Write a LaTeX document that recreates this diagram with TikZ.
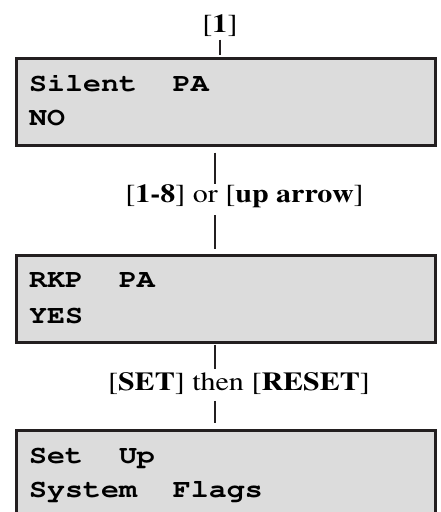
\documentclass[tikz,border=0pt]{standalone}
\usepackage[T1]{fontenc}
\usepackage{graphicx}

\definecolor{lcdgrey}{HTML}{DCDCDC}
\definecolor{ink}{HTML}{231F20}

\newcommand\lcdfont{\fontfamily{pcr}\fontseries{b}\fontsize{25.7}{30}\selectfont}
\newcommand\keyfont{\fontfamily{ptm}\fontseries{m}\fontsize{26}{30}\selectfont}
\newcommand\xwide[1]{\scalebox{1.155}[1]{#1}}
\newcommand\lcdwide[1]{\scalebox{1.165}[1]{#1}}

\tikzset{
  lcd/.style={draw=ink, fill=lcdgrey, line width=3pt, minimum width=418.5pt,
    minimum height=87pt, inner sep=0pt, outer sep=0pt, anchor=north west},
  lcdline/.style={font=\lcdfont, inner sep=0pt, anchor=base west},
  key/.style={font=\keyfont, inner sep=0pt, anchor=base},
  wire/.style={draw=ink, line width=2pt},
}

\begin{document}
\begin{tikzpicture}[x=1pt, y=-1pt]
  \useasboundingbox (0,0) rectangle (441,512);
  \clip (0,0) rectangle (441,512);
  \coordinate (spine) at (214.5,0);

  \node[key] (one) at (220,32.3) {\xwide{[\textbf{1}]}};
  \node[lcd] (silent) at (16.5,58.5) {};
  \node[lcdline] (silent1) at (29,91.5) {\lcdwide{Silent\ \ PA}};
  \node[lcdline] (silent2) at (29,125) {\lcdwide{NO}};

  \node[key] (keys) at (244.5,202) {\xwide{[\textbf{1-8}] or [\textbf{up arrow}]}};
  \node[lcd] (rkp) at (16.5,255.5) {};
  \node[lcdline] (rkp1) at (29,287) {\lcdwide{RKP\ \ PA}};
  \node[lcdline] (rkp2) at (29,323.5) {\lcdwide{YES}};

  \node[key] (setreset) at (239,390) {\xwide{[\textbf{SET}] then [\textbf{RESET}]}};
  \node[lcd] (setup) at (16.5,430) {};
  \node[lcdline] (setup1) at (29,463.5) {\lcdwide{Set\ \ Up}};
  \node[lcdline] (setup2) at (29,497) {\lcdwide{System\ \ Flags}};

  \draw[wire, shorten <=3pt, shorten >=3.5pt] (one) -- (one |- silent.north);
  \draw[wire, shorten <=7pt] (silent.south -| spine) -- (keys.north -| spine);
  \draw[wire, shorten <=8pt, shorten >=7pt] (keys.south -| spine) -- (rkp.north -| spine);
  \draw[wire, shorten <=2pt, shorten >=3pt] (rkp.south -| spine) -- (setreset.north -| spine);
  \draw[wire, shorten <=6.5pt, shorten >=7pt] (setreset.south -| spine) -- (setup.north -| spine);
\end{tikzpicture}
\end{document}
